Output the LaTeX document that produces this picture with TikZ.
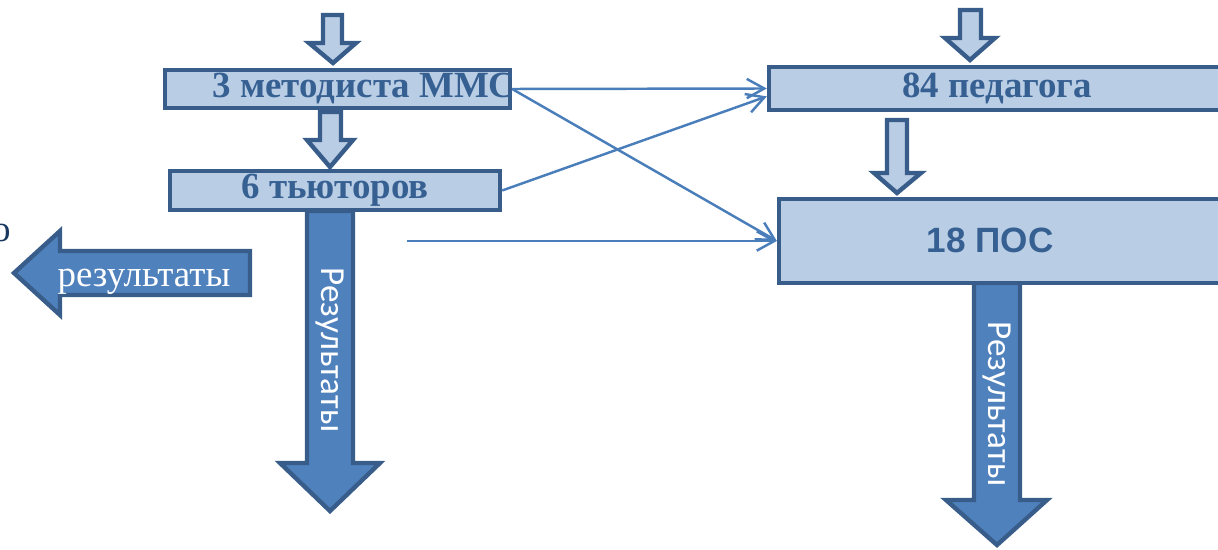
\documentclass[tikz,border=0pt]{standalone}
\usepackage{fontspec}
\setmainfont{Liberation Serif}
\setsansfont{Carlito}
\newfontfamily\arialfont{Liberation Sans}
\usetikzlibrary{arrows.meta}

\definecolor{boxfill}{HTML}{B9CDE5}
\definecolor{boxline}{HTML}{385D8A}
\definecolor{boxtext}{HTML}{376092}
\definecolor{resfill}{HTML}{4F81BD}
\definecolor{linkcol}{HTML}{4A7EBB}
\definecolor{edgetext}{HTML}{17375E}

\begin{document}
\begin{tikzpicture}[x=0.02cm,y=-0.02cm,
  level/.style={shape=rectangle,draw=boxline,fill=boxfill,line width=2.5pt,inner sep=0pt},
  title/.style={text=boxtext,font=\fontsize{21}{21}\selectfont\bfseries},
  hollow/.style={draw=boxline,fill=boxfill,line width=2.5pt},
  result/.style={draw=boxline,fill=resfill,line width=2.5pt},
  restext/.style={text=white,font=\sffamily\fontsize{20}{20}\selectfont},
  influences/.style={draw=linkcol,line width=1.4pt,-{Straight Barb[length=10pt,width=11pt]}}]
\clip (0,0) rectangle (1218,550);
% result arrows
\draw[result] (307,211) -- (353,211) -- (353,463) -- (380,463) -- (330,511) -- (280,463) -- (307,463) -- cycle;
\draw[result] (974,283) -- (1020,283) -- (1020,500) -- (1047,500) -- (997,545) -- (946,500) -- (974,500) -- cycle;
\draw[result] (250,251) -- (60,251) -- (60,231) -- (14,273) -- (60,315) -- (60,295) -- (250,295) -- cycle;
\node[restext,rotate=-90] (R1) at (330,350) {Результаты};
\node[restext,rotate=-90] (R2) at (997,404) {Результаты};
\node[text=white,font=\fontsize{21}{21}\selectfont,anchor=base] (R3) at (144,287) {результаты};
\node[text=edgetext,font=\fontsize{21}{21}\selectfont,anchor=base east,inner sep=0pt] (O) at (11,242) {о};
% levels
\node[level,minimum width=6.9cm,minimum height=0.76cm] (M) at (337.5,89) {};
\node[title] (Mt) at (364,88) {3 методиста ММС};
\node[level,minimum width=6.6cm,minimum height=0.78cm] (T) at (335,190.5) {};
\node[title] (Tt) at (335,190) {6 тьюторов};
\node[level,minimum width=9.42cm,minimum height=0.86cm] (P) at (1004.5,88.5) {};
\node[title] (Pt) at (997,88) {84 педагога};
\node[level,minimum width=9.22cm,minimum height=1.68cm] (Q) at (1009.5,241) {};
\node[text=boxtext,font=\arialfont\bfseries\fontsize{20}{20}\selectfont] (Qt) at (990,240) {18 ПОС};
% hollow arrows
\draw[hollow] (323,15) -- (342,15) -- (342,43) -- (356,43) -- (333,63) -- (309,43) -- (323,43) -- cycle;
\draw[hollow] (320,112) -- (341,112) -- (341,140) -- (353,140) -- (330,167) -- (307,140) -- (320,140) -- cycle;
\draw[hollow] (960,10) -- (981,10) -- (981,38) -- (995,38) -- (970,60) -- (945,38) -- (960,38) -- cycle;
\draw[hollow] (887,120) -- (907,120) -- (907,173) -- (921,173) -- (897,193) -- (874,173) -- (887,173) -- cycle;
% links
\coordinate (F) at (407,241);
\draw[influences] (M.east) -- (P.west);
\draw[influences] (M.east) -- (Q.west);
\draw[influences] (T.east) -- ([yshift=-4.5pt]P.west);
\draw[influences] (F) -- (Q.west);
\end{tikzpicture}
\end{document}
